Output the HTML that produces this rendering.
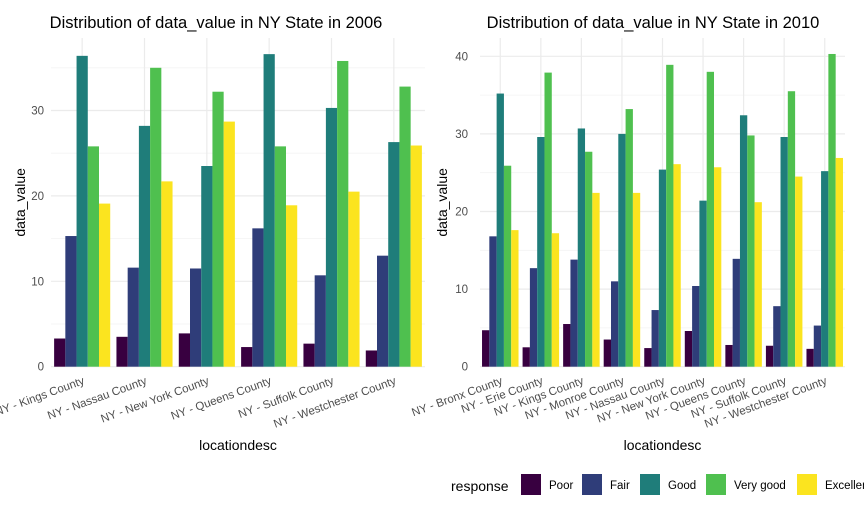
<!DOCTYPE html>
<html><head><meta charset="utf-8"><style>
body{margin:0;background:#fff;font-family:"Liberation Sans",sans-serif}
svg text{font-family:"Liberation Sans",sans-serif}
</style></head><body>
<svg id="c" width="864" height="518"></svg>
<script>
const responses=["Poor","Fair","Good","Very good","Excellent"];
const colors=["#380040","#2f3d79","#1f7d7a","#4fc04f","#fbe41f"];
const cats2006=["NY - Kings County","NY - Nassau County","NY - New York County","NY - Queens County","NY - Suffolk County","NY - Westchester County"];
const poor2006=[3.3,3.5,3.9,2.3,2.7,1.9];
const fair2006=[15.3,11.6,11.5,16.2,10.7,13.0];
const good2006=[36.4,28.2,23.5,36.6,30.3,26.3];
const vgood2006=[25.8,35.0,32.2,25.8,35.8,32.8];
const exc2006=[19.1,21.7,28.7,18.9,20.5,25.9];
const cats2010=["NY - Bronx County","NY - Erie County","NY - Kings County","NY - Monroe County","NY - Nassau County","NY - New York County","NY - Queens County","NY - Suffolk County","NY - Westchester County"];
const poor2010=[4.7,2.5,5.5,3.5,2.4,4.6,2.8,2.7,2.3];
const fair2010=[16.8,12.7,13.8,11.0,7.3,10.4,13.9,7.8,5.3];
const good2010=[35.2,29.6,30.7,30.0,25.4,21.4,32.4,29.6,25.2];
const vgood2010=[25.9,37.9,27.7,33.2,38.9,38.0,29.8,35.5,40.3];
const exc2010=[17.6,17.2,22.4,22.4,26.1,25.7,21.2,24.5,26.9];
const ticks2006=[0,10,20,30];
const ticks2010=[0,10,20,30,40];

const svg=document.getElementById('c');
const NS="http://www.w3.org/2000/svg";
function mk(tag,attrs,parent,name,text){
  const e=document.createElementNS(NS,tag);
  for(const k in attrs)e.setAttribute(k,attrs[k]);
  
  
  if(text!==undefined)e.textContent=text;
  (parent||svg).appendChild(e);return e;
}
function panel(cfg){
  const g=mk('g',{},svg,cfg.name);
  const {x0,x1,yTop,yZero,pxPer,cats,series,ticks,title,titleX,ylabX,axisTitleX}=cfg;
  const n=cats.length, step=(x1-x0)/n;
  const xc=i=>x0+step*(i+0.5);
  const y=v=>yZero-v*pxPer;
  const maxV=(yZero-yTop)/pxPer;
  for(let v=5;v<maxV;v+=10) mk('line',{x1:x0,x2:x1,y1:y(v),y2:y(v),stroke:'#f3f3f3','stroke-width':0.8},g,'minor-gridline');
  ticks.forEach(t=>{
    mk('line',{x1:x0,x2:x1,y1:y(t),y2:y(t),stroke:'#ebebeb','stroke-width':1.2},g,'major-gridline');
    mk('text',{x:ylabX,y:y(t)+4,'text-anchor':'end','font-size':11.5,fill:'#4d4d4d'},g,'y-tick-label',String(t));
  });
  cats.forEach((c,i)=>{
    mk('line',{x1:xc(i),x2:xc(i),y1:yTop,y2:yZero,stroke:'#ebebeb','stroke-width':1.2},g,'x-gridline');
    mk('text',{x:xc(i)+3,y:yZero+17,'text-anchor':'end','font-size':11.5,fill:'#4d4d4d',transform:`rotate(-20 ${xc(i)+3} ${yZero+17})`},g,'x-tick-label',c);
  });
  const gw=step*0.9, bw=gw/5;
  series.forEach((s,si)=>{
    s.forEach((v,i)=>{
      const bx=xc(i)-gw/2+si*bw;
      mk('rect',{x:bx,y:y(v),width:bw,height:v*pxPer,fill:colors[si]},g,'bar-'+responses[si].toLowerCase().replace(' ','-'));
    });
  });
  mk('text',{x:titleX,y:28,'text-anchor':'middle','font-size':16.5,fill:'#000'},g,'chart-title',title);
  mk('text',{x:(x0+x1)/2,y:450,'text-anchor':'middle','font-size':14,fill:'#000'},g,'x-axis-title','locationdesc');
  mk('text',{x:axisTitleX,y:(yTop+yZero)/2,'text-anchor':'middle','font-size':14,fill:'#000',transform:`rotate(-90 ${axisTitleX} ${(yTop+yZero)/2})`},g,'y-axis-title','data_value');
}
panel({name:'panel-2006',x0:51,x1:425,yTop:38,yZero:366.7,pxPer:8.54,cats:cats2006,series:[poor2006,fair2006,good2006,vgood2006,exc2006],ticks:ticks2006,title:'Distribution of data_value in NY State in 2006',titleX:216,ylabX:44,axisTitleX:25});
panel({name:'panel-2010',x0:480,x1:845,yTop:38,yZero:366.7,pxPer:7.76,cats:cats2010,series:[poor2010,fair2010,good2010,vgood2010,exc2010],ticks:ticks2010,title:'Distribution of data_value in NY State in 2010',titleX:653,ylabX:468,axisTitleX:447});
const lg=mk('g',{},svg,'legend');
mk('text',{x:451,y:491,'font-size':14,fill:'#000'},lg,'legend-title','response');
const keyX=[521,582,640,706,797];
responses.forEach((r,i)=>{
  mk('rect',{x:keyX[i],y:474,width:20,height:21,fill:colors[i]},lg,'legend-key');
  mk('text',{x:keyX[i]+28,y:489,'font-size':11.5,fill:'#000'},lg,'legend-label',r);
});
</script>
</body></html>
